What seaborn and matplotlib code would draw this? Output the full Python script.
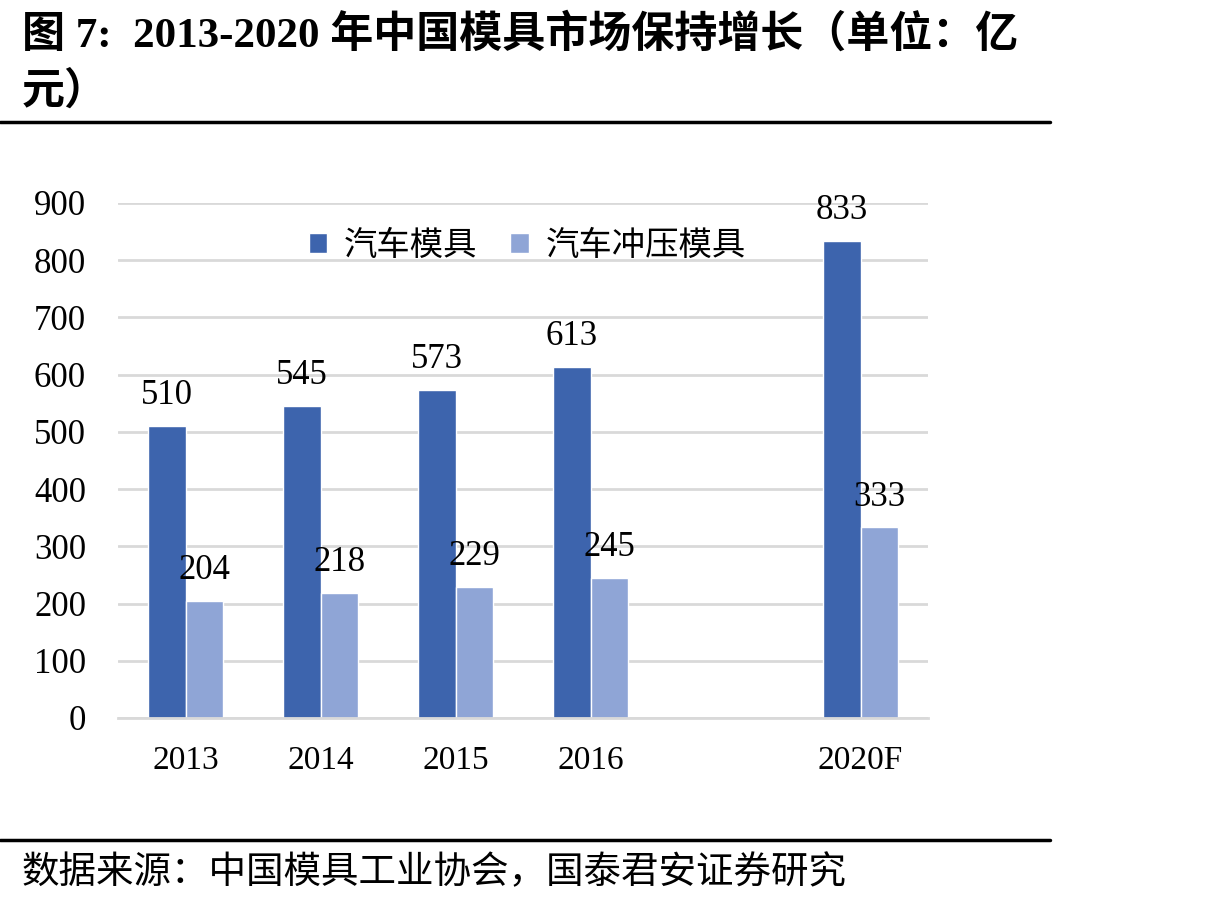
import matplotlib
matplotlib.use('Agg')
import matplotlib.pyplot as plt
import numpy as np
import pandas as pd
import seaborn as sns

# data
years = ['2013', '2014', '2015', '2016', '2020F']
order = ['2013', '2014', '2015', '2016', ' ', '2020F']  # blank slot before 2020F
auto_mold = [510, 545, 573, 613, 833]
stamping_mold = [204, 218, 229, 245, 333]
series_names = ['汽车模具', '汽车冲压模具']
y_ticks = [0, 100, 200, 300, 400, 500, 600, 700, 800, 900]

title = '图 7:  2013-2020 年中国模具市场保持增长（单位：亿\n元）'
source = '数据来源：中国模具工业协会，国泰君安证券研究'

df = pd.DataFrame({
    'year': years * 2,
    'value': auto_mold + stamping_mold,
    'series': [series_names[0]] * len(years) + [series_names[1]] * len(years),
})

sns.set_style('white')
serif = ['Liberation Serif', 'Noto Sans CJK SC']
cjk = ['Noto Sans CJK SC', 'DejaVu Sans']
plt.rcParams['font.family'] = serif
plt.rcParams['text.color'] = 'black'
plt.rcParams['xtick.color'] = 'black'
plt.rcParams['ytick.color'] = 'black'

fig = plt.figure(figsize=(12.17, 9.07), dpi=100)
ax = fig.add_axes([0.097, 0.2084, 0.6656, 0.5678])

palette = {series_names[0]: '#3D64AD', series_names[1]: '#8FA5D6'}
sns.barplot(data=df, x='year', y='value', hue='series', order=order,
            hue_order=series_names, palette=palette, width=0.55,
            saturation=1, ax=ax, legend=True)

ax.set_ylim(0, 900)
ax.set_xlim(-0.5, len(order) - 0.5)
ax.set_yticks(y_ticks)
ax.yaxis.grid(True, color='#D9D9D9', linewidth=2)
ax.set_axisbelow(True)
for s in ['top', 'right', 'left']:
    ax.spines[s].set_visible(False)
ax.spines['bottom'].set_color('#D9D9D9')
ax.spines['bottom'].set_linewidth(2)
ax.set_xlabel('')
ax.set_ylabel('')
ax.tick_params(axis='y', length=0, labelsize=25, pad=23)
ax.tick_params(axis='x', which='major', length=0, labelsize=24, pad=20)
ax.set_xticks(np.arange(-0.5, len(order)), minor=True)
ax.tick_params(axis='x', which='minor', length=10, width=2, color='#D9D9D9')

for c in ax.containers:
    ax.bar_label(c, fmt='%d', fontsize=25, padding=10, color='black')

ax.legend(loc='upper center', bbox_to_anchor=(0.505, 1.01), ncol=2, frameon=False,
          prop={'family': cjk, 'size': 24}, handlelength=0.55, handleheight=0.55,
          columnspacing=1.0, handletextpad=0.5)

fig.text(0.018, 0.985, title, fontsize=31, fontweight='bold', va='top',
         family=['Liberation Serif', 'Noto Sans CJK SC'], linespacing=1.5)
fig.add_artist(plt.Line2D([0, 0.863], [1 - 122 / 907] * 2, color='black', linewidth=2.5))
fig.add_artist(plt.Line2D([0, 0.863], [1 - 840 / 907] * 2, color='black', linewidth=2.5))
fig.text(0.018, 1 - 873 / 907, source, fontsize=27, va='center', family=cjk)

fig.savefig('out.png', dpi=100)
